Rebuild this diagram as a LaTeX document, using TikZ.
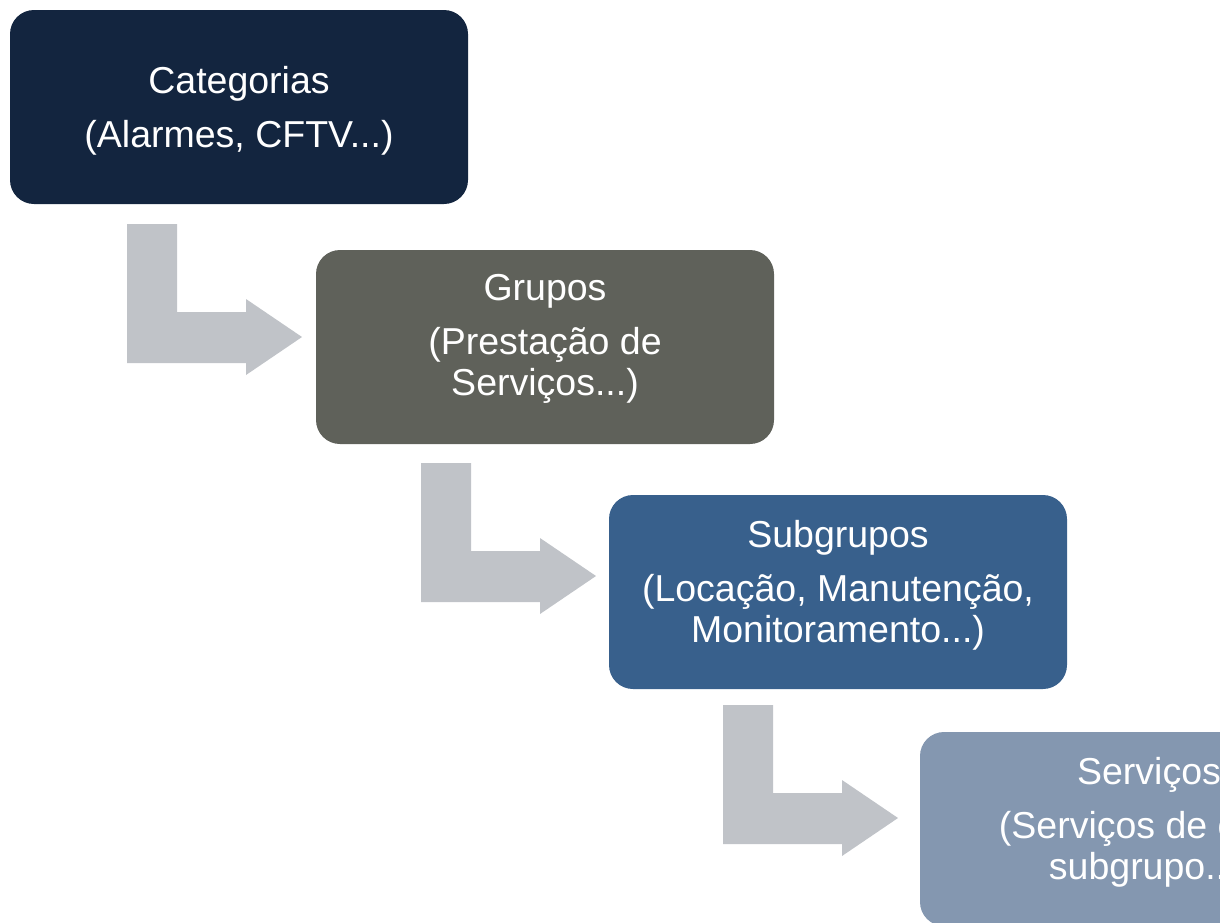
\documentclass[tikz,border=0pt]{standalone}
\usepackage{fontspec}
\setmainfont{Liberation Sans}
\definecolor{catcol}{HTML}{13253F}
\definecolor{grpcol}{HTML}{5F615A}
\definecolor{subcol}{HTML}{38608C}
\definecolor{srvcol}{HTML}{8497B0}
\definecolor{arrowcol}{HTML}{C0C3C8}
\tikzset{
  box/.style={rectangle, rounded corners=24pt, minimum width=458pt, minimum height=194pt, inner sep=0pt},
  txt/.style={anchor=north, inner sep=0pt, align=center, text=white, font=\fontsize{37.5}{41}\selectfont},
  bentarrow/.pic={
    \fill[arrowcol] (0,0) -- (50,0) -- (50,88) -- (119,88) -- (119,75) -- (175,113)
      -- (119,151) -- (119,139) -- (0,139) -- cycle;
  }
}
\begin{document}
\begin{tikzpicture}[x=1pt, y=-1pt]
    \useasboundingbox (0,0) rectangle (1220,922);
    \clip (0,0) rectangle (1220,922);

    % caixas
    \node[box, fill=catcol] (cat) at (239,107) {};
    \node[box, fill=grpcol] (grp) at (545,347) {};
    \node[box, fill=subcol] (sub) at (838,592) {};
    \node[box, fill=srvcol] (srv) at (1149,829) {};

    % textos
    \node[txt] (cattxt) at ([yshift=-56pt]cat.north) {Categorias\\[13pt](Alarmes, CFTV...)};
    \node[txt] (grptxt) at ([yshift=-24pt]grp.north) {Grupos\\[13pt](Prestação de\\Serviços...)};
    \node[txt] (subtxt) at ([yshift=-25pt]sub.north) {Subgrupos\\[13pt](Locação, Manutenção,\\Monitoramento...)};
    \node[txt] (srvtxt) at ([yshift=-25pt]srv.north) {Serviços\\[13pt](Serviços de cada\\subgrupo...)};

    % setas
    \pic at (127,224) {bentarrow};
    \pic at (421,463) {bentarrow};
    \pic at (723,705) {bentarrow};

\end{tikzpicture}
\end{document}
